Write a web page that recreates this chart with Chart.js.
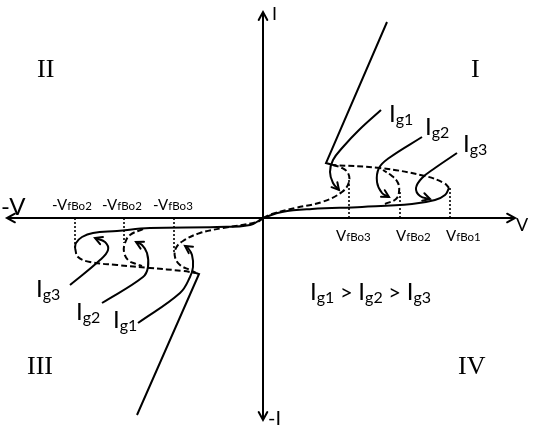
<!DOCTYPE html>
<html><head><meta charset="utf-8">
<script src="https://cdn.jsdelivr.net/npm/chart.js@4.4.1/dist/chart.umd.min.js"></script>
<style>html,body{margin:0;padding:0;background:#fff}#wrap{width:534px;height:428px;position:relative}</style>
</head><body><div id="wrap"><canvas id="c"></canvas></div>
<script>
// ---- data (V in x, I in y, arbitrary units) ----
const axisV = [[-25.6,0],[25.2,0]];
const axisI = [[0,20.6],[0,-20.2]];

// Quadrant I
const q1OnState   = [[7.0,5.3],[6.3,5.5],[12.4,19.6]];
const q1Ig3Off    = [[0,0],[1.9,0.6],[4.9,0.9],[9.9,1.1],[14.9,1.4],[17.2,1.8],[18.2,2.3],[18.6,3.0]];
const q1Ig3Neg    = [[18.6,3.0],[18.1,3.5],[16.2,4.2],[11.7,5.0],[7.0,5.3]];
const q1Ig2Neg    = [[12.2,1.4],[13.3,1.9],[13.6,2.6],[13.5,3.5],[12.9,4.2],[12.0,4.8]];
const q1Ig1Neg    = [[0,0],[0.9,0.4],[3.2,1.0],[5.9,1.6],[7.9,2.6],[8.6,3.6],[8.5,4.5],[7.9,5.0],[7.0,5.3]];
const q1VBo       = [8.6, 13.7, 18.7];
const q1VBoTop    = [3.8, 2.6, 3.1];
const q1PtrIg1    = [[11.8,10.8],[9.6,8.8],[8.0,7.1],[7.0,5.8],[6.7,4.6],[7.0,3.5],[7.6,2.8]];
const q1PtrIg2    = [[15.9,8.1],[12.6,6.0],[11.6,5.0],[11.4,3.6],[11.9,2.5],[12.6,2.1]];
const q1PtrIg3    = [[19.4,6.5],[17.2,5.0],[15.9,4.0],[15.3,3.0],[15.7,2.2],[16.7,1.9]];

// Quadrant III
const q3OnState   = [[-6.7,-5.5],[-6.4,-5.6],[-12.6,-19.7]];
const q3Ig3Off    = [[0,0],[-1.3,-0.7],[-4.6,-0.9],[-11.3,-1.0],[-14.6,-1.3],[-17.0,-1.5],[-18.1,-1.9],[-18.7,-2.5],[-18.8,-3.0]];
const q3Ig3Neg    = [[-18.8,-3.0],[-18.5,-3.9],[-17.3,-4.4],[-14.6,-4.7],[-11.3,-5.0],[-8.0,-5.3],[-6.7,-5.5]];
const q3Ig2Neg    = [[-12.0,-1.1],[-13.3,-1.7],[-13.8,-2.5],[-13.9,-3.4],[-13.5,-4.2],[-12.7,-4.6],[-12.1,-4.8]];
const q3Ig1Neg    = [[0,0],[-0.6,-0.4],[-4.0,-1.0],[-6.3,-1.5],[-8.0,-2.3],[-8.7,-3.0],[-8.8,-3.9],[-8.3,-4.7],[-7.3,-5.2],[-6.7,-5.5]];
const q3VBo       = [-18.8, -13.9, -8.9];
const q3VBoTop    = [-3.0, -2.5, -3.4];
const q3PtrIg3    = [[-19.3,-6.7],[-16.3,-4.2],[-15.5,-3.2],[-15.8,-2.4],[-16.8,-2.0]];
const q3PtrIg2    = [[-16.1,-8.5],[-12.0,-5.9],[-11.5,-4.9],[-11.6,-3.5],[-12.1,-2.7],[-12.7,-2.4]];
const q3PtrIg1    = [[-12.5,-10.5],[-8.3,-7.5],[-7.3,-5.9],[-7.0,-4.9],[-7.1,-3.7],[-7.5,-3.0],[-7.8,-2.8]];

// Tick-like labels
const q1VBoLabels = [['V','fBo3'],['V','fBo2'],['V','fBo1']];
const q3VBoLabels = [['-V','fBo2'],['-V','fBo2'],['-V','fBo3']];
const gateLabels  = ['g1','g2','g3'];

// ---- build ----
const toXY = a => a.map(p => ({x:p[0], y:p[1]}));
const STY = {
  solid:  {borderWidth:2, borderDash:[]},
  dashed: {borderWidth:2, borderDash:[6,3]},
  dotted: {borderWidth:1.6, borderDash:[2,2]},
  axis:   {borderWidth:2, borderDash:[]},
  ptr:    {borderWidth:2, borderDash:[]}
};
function ds(arr, style, tension, arrow){
  return Object.assign({data:toXY(arr), showLine:true, pointRadius:0, borderColor:'#000',
    backgroundColor:'#000', tension:tension, fill:false, clip:false, arrow:arrow||null}, STY[style]);
}
const datasets = [
  ds(axisV,'axis',0,'both'), ds(axisI,'axis',0,'both'),
  ds(q1OnState,'solid',0), ds(q1Ig3Off,'solid',0.4), ds(q1Ig3Neg,'dashed',0.4),
  ds(q1Ig2Neg,'dashed',0.4), ds(q1Ig1Neg,'dashed',0.4),
  ds(q1PtrIg1,'ptr',0.4,'end'), ds(q1PtrIg2,'ptr',0.4,'end'), ds(q1PtrIg3,'ptr',0.4,'end'),
  ds(q3OnState,'solid',0), ds(q3Ig3Off,'solid',0.4), ds(q3Ig3Neg,'dashed',0.4),
  ds(q3Ig2Neg,'dashed',0.4), ds(q3Ig1Neg,'dashed',0.4),
  ds(q3PtrIg1,'ptr',0.4,'end'), ds(q3PtrIg2,'ptr',0.4,'end'), ds(q3PtrIg3,'ptr',0.4,'end')
];
q1VBo.forEach((v,i)=>datasets.push(ds([[v,0],[v,q1VBoTop[i]]],'dotted',0)));
q3VBo.forEach((v,i)=>datasets.push(ds([[v,0],[v,q3VBoTop[i]]],'dotted',0)));

const SANS = 'Lato, "Open Sans", sans-serif';
const SERIF = '"Liberation Serif", "DejaVu Serif", serif';
// label runs: [text, size, dy(px), family]
const texts = [
  {x:0.9,  y:19.8, runs:[['I',18,0,SANS]]},
  {x:0.5,  y:-20.7,runs:[['-I',20,0,SANS]]},
  {x:-26.2,y:0.3,  runs:[['-V',24,0,SANS]]},
  {x:25.3, y:-1.3, runs:[['V',18,0,SANS]]},
  {x:-22.6,y:14.1, runs:[['II',26,0,SERIF]]},
  {x:20.8, y:14.1, runs:[['I',26,0,SERIF]]},
  {x:-23.6,y:-15.6,runs:[['III',26,0,SERIF]]},
  {x:19.5, y:-15.6,runs:[['IV',26,0,SERIF]]},
  {x:4.7,  y:-8.2, runs:[['I',24,0,SANS],[gateLabels[0],16,3,SANS],[' > ',22,0,SANS],['I',24,0,SANS],[gateLabels[1],16,3,SANS],[' > ',22,0,SANS],['I',24,0,SANS],[gateLabels[2],16,3,SANS]]}
];
[[12.6,9.6],[16.2,8.3],[20.0,6.6]].forEach((p,i)=>texts.push({x:p[0],y:p[1],runs:[['I',24,0,SANS],[gateLabels[i],16,3,SANS]]}));
[[-15.0,-11.0],[-18.7,-10.2],[-22.7,-7.9]].forEach((p,i)=>texts.push({x:p[0],y:p[1],runs:[['I',24,0,SANS],[gateLabels[i],16,3,SANS]]}));
[7.3,13.3,18.3].forEach((x,i)=>texts.push({x:x,y:-2.3,runs:[[q1VBoLabels[i][0],15,0,SANS],[q1VBoLabels[i][1],11.5,0,SANS]]}));
[-21.1,-16.1,-11.0].forEach((x,i)=>texts.push({x:x,y:0.8,runs:[[q3VBoLabels[i][0],15,0,SANS],[q3VBoLabels[i][1],11.5,0,SANS]]}));

function head(ctx, tip, from, len){
  const a = Math.atan2(tip.y-from.y, tip.x-from.x);
  ctx.beginPath();
  ctx.moveTo(tip.x - len*Math.cos(a-0.5), tip.y - len*Math.sin(a-0.5));
  ctx.lineTo(tip.x, tip.y);
  ctx.lineTo(tip.x - len*Math.cos(a+0.5), tip.y - len*Math.sin(a+0.5));
  ctx.stroke();
}
const deco = {
  id:'deco',
  afterDatasetsDraw(chart){
    const ctx = chart.ctx, xs = chart.scales.x, ys = chart.scales.y;
    const P = d => ({x:xs.getPixelForValue(d.x), y:ys.getPixelForValue(d.y)});
    ctx.save();
    ctx.strokeStyle='#000'; ctx.lineWidth=2; ctx.setLineDash([]); ctx.lineCap='round'; ctx.lineJoin='miter';
    chart.data.datasets.forEach(d=>{
      if(!d.arrow) return;
      const n = d.data.length;
      head(ctx, P(d.data[n-1]), P(d.data[n-2]), d.arrow==='both'?9:8);
      if(d.arrow==='both') head(ctx, P(d.data[0]), P(d.data[1]), 9);
    });
    ctx.fillStyle='#000'; ctx.textBaseline='alphabetic'; ctx.textAlign='left';
    texts.forEach(t=>{
      let px = xs.getPixelForValue(t.x), py = ys.getPixelForValue(t.y);
      t.runs.forEach(r=>{
        ctx.font = r[1]+'px '+r[3];
        ctx.fillText(r[0], px, py + r[2]);
        px += ctx.measureText(r[0]).width;
      });
    });
    ctx.restore();
  }
};

new Chart(document.getElementById('c'), {
  type:'scatter',
  data:{datasets},
  options:{
    responsive:true, maintainAspectRatio:false, animation:false, events:[],
    layout:{padding:0},
    plugins:{legend:{display:false}, tooltip:{enabled:false}},
    scales:{
      x:{type:'linear', min:-26.3, max:27.1, display:false},
      y:{type:'linear', min:-21.0, max:21.8, display:false}
    }
  },
  plugins:[deco]
});
</script></body></html>
